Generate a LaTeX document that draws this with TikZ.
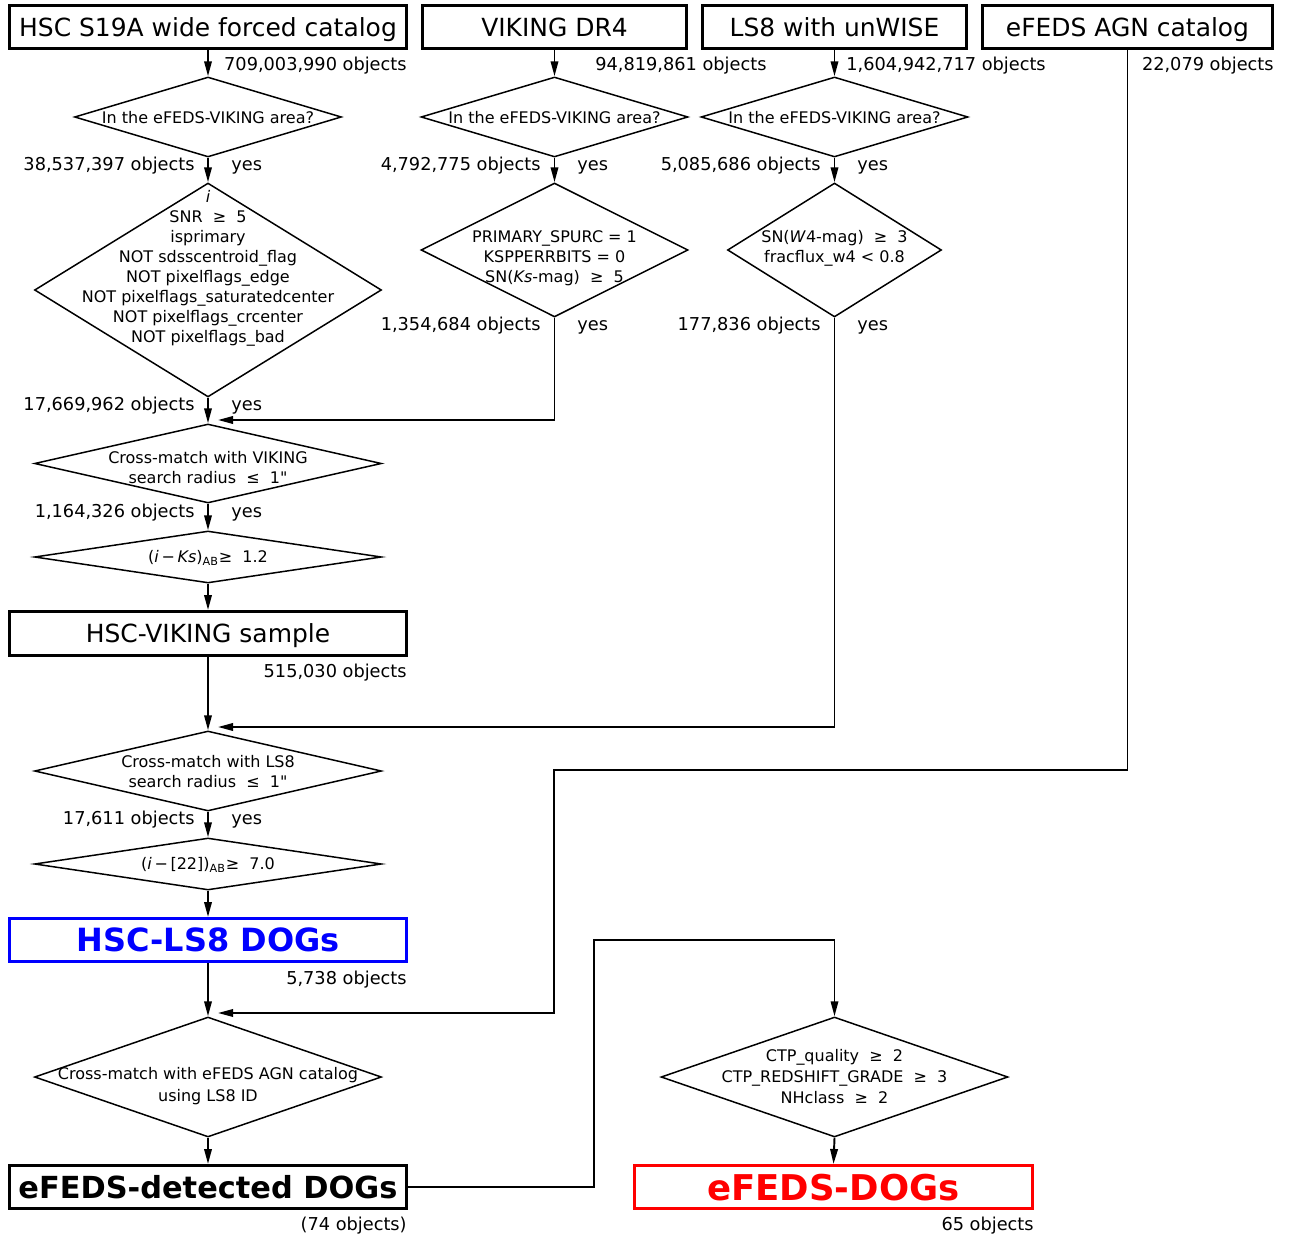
\documentclass[tikz,border=0pt]{standalone}
\usepackage{fontspec}
\setmainfont{DejaVu Sans}
\newfontfamily\plainfam{DejaVu Sans}
\usetikzlibrary{shapes.geometric,arrows.meta}

\begin{document}
\begin{tikzpicture}
        [
            x = 0.02cm, y = -0.02cm,
            src/.style = {draw, line width = 1.7pt, inner sep = 0pt, text depth = 0pt, minimum height = 0.86cm, font = \fontsize{14.2}{17}\selectfont},
            cond/.style = {diamond, draw, line width = 0.85pt, inner sep = 0pt},
            ctext/.style = {align = center, inner sep = 0pt, font = \fontsize{9.1}{11.4}\selectfont},
            count/.style = {inner sep = 0pt, font = \fontsize{10.1}{12}\selectfont},
            flow/.style = {-{Triangle[length = 3mm, width = 1.5mm]}, line width = 1.1pt},
            link/.style = {line width = 1pt},
        ]

        \useasboundingbox (0,0) rectangle (1290,1239);

        % catalogs
        \node[src, minimum width = 7.94cm] (s1) at (208,27) {HSC S19A wide forced catalog};
        \node[src, minimum width = 5.28cm] (s2) at (554.5,27) {VIKING DR4};
        \node[src, minimum width = 5.28cm] (s3) at (834.5,27) {LS8 with unWISE};
        \node[src, minimum width = 5.8cm] (s4) at (1127.5,27) {eFEDS AGN catalog};

        \node[count, anchor = base east] (n1) at (407,70.5) {709,003,990 objects};
        \node[count, anchor = base west] (n2) at (595,70.5) {94,819,861 objects};
        \node[count, anchor = base west] (n3) at (846,70.5) {1,604,942,717 objects};
        \node[count, anchor = base east] (n4) at (1274,70.5) {22,079 objects};

        % area cuts
        \node[cond, minimum width = 5.34cm, minimum height = 1.6cm] (a1) at (208,117) {};
        \node[cond, minimum width = 5.34cm, minimum height = 1.6cm] (a2) at (554.5,117) {};
        \node[cond, minimum width = 5.34cm, minimum height = 1.6cm] (a3) at (834.5,117) {};
        \node[ctext] (a1t) at (208,118) {In the eFEDS-VIKING area?};
        \node[ctext] (a2t) at (554.5,118) {In the eFEDS-VIKING area?};
        \node[ctext] (a3t) at (834.5,118) {In the eFEDS-VIKING area?};

        \node[count, anchor = base east] (n5) at (195,170.5) {38,537,397 objects};
        \node[count, anchor = base west] (y5) at (231,170.5) {yes};
        \node[count, anchor = base east] (n6) at (541,170.5) {4,792,775 objects};
        \node[count, anchor = base west] (y6) at (577,170.5) {yes};
        \node[count, anchor = base east] (n7) at (821,170.5) {5,085,686 objects};
        \node[count, anchor = base west] (y7) at (857,170.5) {yes};

        % quality cuts
        \node[cond, minimum width = 6.94cm, minimum height = 4.28cm] (h1) at (208,290) {};
        \node[ctext] (h1t) at (208,268) {\textit{i}\\SNR~ ≥~ 5\\isprimary\\NOT sdsscentroid\_flag\\NOT pixelflags\_edge\\NOT pixelflags\_saturatedcenter\\NOT pixelflags\_crcenter\\NOT pixelflags\_bad};
        \node[cond, minimum width = 5.34cm, minimum height = 2.68cm] (v1) at (554.5,250) {};
        \node[ctext] (v1t) at (554.5,258) {PRIMARY\_SPURC = 1\\KSPPERRBITS = 0\\SN(\textit{Ks}-mag)~ ≥~ 5};
        \node[cond, minimum width = 4.28cm, minimum height = 2.68cm] (l1) at (834.5,250) {};
        \node[ctext] (l1t) at (834.5,248) {SN(\textit{W}4-mag)~ ≥~ 3\\fracflux\_w4 < 0.8};

        \node[count, anchor = base east] (n8) at (541,330.5) {1,354,684 objects};
        \node[count, anchor = base west] (y8) at (577,330.5) {yes};
        \node[count, anchor = base east] (n9) at (821,330.5) {177,836 objects};
        \node[count, anchor = base west] (y9) at (857,330.5) {yes};
        \node[count, anchor = base east] (n10) at (195,410.5) {17,669,962 objects};
        \node[count, anchor = base west] (y10) at (231,410.5) {yes};

        % HSC-VIKING
        \node[cond, minimum width = 6.94cm, minimum height = 1.58cm] (x1) at (208,463.5) {};
        \node[ctext] (x1t) at (208,468) {Cross-match with VIKING\\search radius~ ≤~ 1{\plainfam "}};
        \node[count, anchor = base east] (n11) at (195,517.5) {1,164,326 objects};
        \node[count, anchor = base west] (y11) at (231,517.5) {yes};
        \node[cond, minimum width = 6.94cm, minimum height = 1.04cm] (k1) at (208,557) {};
        \node[ctext] (k1t) at (208,558) {(\textit{i}\,−\,\textit{Ks})\textsubscript{AB}≥~ 1.2};
        \node[src, minimum width = 7.94cm, minimum height = 0.88cm] (b1) at (208,633.5) {HSC-VIKING sample};
        \node[count, anchor = base east] (n12) at (407,677.5) {515,030 objects};

        % HSC-LS8
        \node[cond, minimum width = 6.94cm, minimum height = 1.6cm] (x2) at (208,771) {};
        \node[ctext] (x2t) at (208,772) {Cross-match with LS8\\search radius~ ≤~ 1{\plainfam "}};
        \node[count, anchor = base east] (n13) at (195,824.5) {17,611 objects};
        \node[count, anchor = base west] (y13) at (231,824.5) {yes};
        \node[cond, minimum width = 6.94cm, minimum height = 1.04cm] (w1) at (208,864) {};
        \node[ctext] (w1t) at (208,865) {(\textit{i}\,−\,[22])\textsubscript{AB}≥~ 7.0};
        \node[src, draw = blue, text = blue, minimum width = 7.94cm, font = \fontsize{18.2}{20}\selectfont\bfseries] (b2) at (208,940) {HSC-LS8 DOGs};
        \node[count, anchor = base east] (n14) at (407,984.5) {5,738 objects};

        % eFEDS
        \node[cond, minimum width = 6.94cm, minimum height = 2.4cm] (x3) at (208,1077) {};
        \node[ctext, font = \fontsize{9.1}{12.6}\selectfont] (x3t) at (208,1086) {Cross-match with eFEDS AGN catalog\\using LS8 ID};
        \node[src, minimum width = 7.94cm, font = \fontsize{17.3}{20}\selectfont\bfseries] (b3) at (208,1187) {eFEDS-detected DOGs};
        \node[count, anchor = base east] (n15) at (407,1230.5) {(74 objects)};
        \node[cond, minimum width = 6.94cm, minimum height = 2.4cm] (q1) at (834.5,1077) {};
        \node[ctext, font = \fontsize{9.1}{12}\selectfont] (q1t) at (834.5,1076.5) {CTP\_quality~ ≥~ 2\\CTP\_REDSHIFT\_GRADE~ ≥~ 3\\NHclass~ ≥~ 2};
        \node[src, draw = red, text = red, minimum width = 7.96cm, font = \fontsize{20.2}{22}\selectfont\bfseries] (b4) at (833.5,1187) {eFEDS-DOGs};
        \node[count, anchor = base east] (n16) at (1034,1230.5) {65 objects};

        % joints
        \coordinate (jv) at (218,420);
        \coordinate (jl) at (218,727);
        \coordinate (je) at (218,1013);
        \coordinate (c1) at (554,770);
        \coordinate (c2) at (594,940);

        % connectors
        \draw[flow] (s1.south) -- (a1.north);
        \draw[flow] (s2.south) -- (a2.north);
        \draw[flow] (s3.south) -- (a3.north);
        \draw[flow] (a1.south) -- (h1.north);
        \draw[flow] (a2.south) -- (v1.north);
        \draw[flow] (a3.south) -- (l1.north);
        \draw[flow] (h1.south) -- (x1.north);
        \draw[flow] (v1.south) |- (jv);
        \draw[flow] (x1.south) -- (k1.north);
        \draw[flow] (k1.south) -- (b1.north);
        \draw[flow] (b1.south) -- (x2.north);
        \draw[flow] (l1.south) |- (jl);
        \draw[flow] (x2.south) -- (w1.north);
        \draw[flow] (w1.south) -- (b2.north);
        \draw[flow] (b2.south) -- (x3.north);
        \draw[flow, link] (s4.south) |- (c1) |- (je);
        \draw[flow] (x3.south) -- (b3.north);
        \draw[flow, link] (b3.east) -| (c2) -| (q1.north);
        \draw[flow] (q1.south) -- (b4.north);

    \end{tikzpicture}
\end{document}
